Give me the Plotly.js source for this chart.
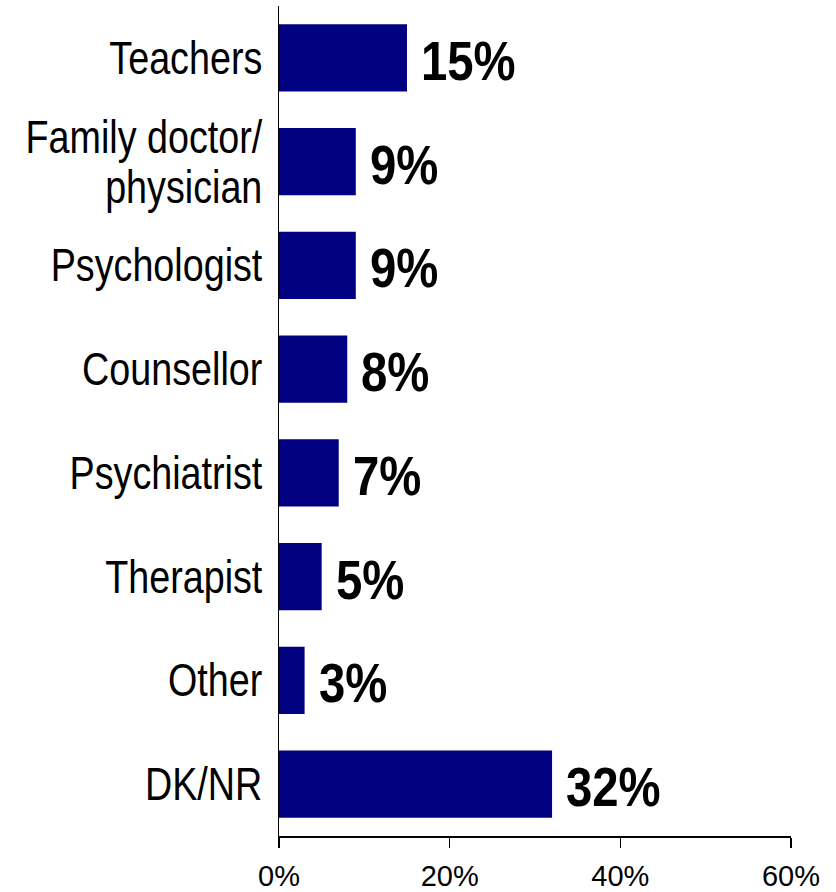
<!DOCTYPE html>
<html>
<head>
<meta charset="utf-8">
<script src="https://cdn.plot.ly/plotly-3.0.1.min.js"></script>
<style>
  html, body { margin: 0; padding: 0; background: #fff; }
  #chart { width: 836px; height: 892px; }
</style>
</head>
<body>
<div id="chart"></div>
<script>
const categories = ["Teachers", "Family doctor/<br>physician", "Psychologist", "Counsellor", "Psychiatrist", "Therapist", "Other", "DK/NR"];
const values = [15, 9, 9, 8, 7, 5, 3, 32];
const xTickVals = [0, 20, 40, 60];
const xTickText = ["0%", "20%", "40%", "60%"];

const FONT = "Liberation Sans, Arial, Helvetica, sans-serif";
const CONDENSE_CAT = 0.82;   // category labels in the reference use a narrow face
const CONDENSE_VAL = 0.86;

const trace = {
  type: "bar",
  orientation: "h",
  x: values,
  y: categories,
  marker: { color: "#000080", line: { width: 0 } },
  hoverinfo: "none",
  width: 0.65
};

const annotations = values.map((v, i) => ({
  x: v,
  y: categories[i],
  xref: "x",
  yref: "y",
  text: "<b>" + v + "%</b>",
  showarrow: false,
  xanchor: "left",
  yanchor: "middle",
  xshift: 12,
  yshift: -3,
  font: { family: FONT, size: 55, color: "#000" }
}));

const layout = {
  width: 836,
  height: 892,
  margin: { l: 279, r: 45, t: 6, b: 56, pad: 0 },
  paper_bgcolor: "#fff",
  plot_bgcolor: "#fff",
  showlegend: false,
  font: { family: FONT },
  xaxis: {
    range: [0, 60],
    tickvals: xTickVals,
    ticktext: xTickText,
    showgrid: false,
    zeroline: false,
    showline: true,
    linecolor: "#000",
    linewidth: 1.5,
    ticks: "outside",
    ticklen: 10,
    tickwidth: 1.5,
    tickcolor: "#000",
    tickfont: { family: FONT, size: 29, color: "#000" },
    ticklabelstandoff: 4,
    fixedrange: true
  },
  yaxis: {
    type: "category",
    categoryorder: "array",
    categoryarray: categories,
    range: [7.5, -0.5],
    showgrid: false,
    zeroline: false,
    showline: true,
    linecolor: "#000",
    linewidth: 1.5,
    ticks: "",
    tickfont: { family: FONT, size: 46, color: "#000" },
    ticklabelstandoff: 6,
    fixedrange: true
  },
  annotations: annotations
};

function condense(el, anchorRight, s) {
  const bb = el.getBBox();
  const ax = anchorRight ? bb.x + bb.width : bb.x;
  const tr = el.getAttribute("transform") || "";
  el.setAttribute("transform", tr + " translate(" + ax + ",0) scale(" + s + ",1) translate(" + (-ax) + ",0)");
}

Plotly.newPlot("chart", [trace], layout, { displayModeBar: false, staticPlot: true }).then(function (gd) {
  gd.querySelectorAll(".ytick text").forEach(function (t) {
    const lines = t.querySelectorAll("tspan.line");
    if (lines.length > 1) {
      for (let k = 1; k < lines.length; k++) lines[k].setAttribute("dy", "1.09em");
      const shift = (1.3 - 1.09) * 46 * (lines.length - 1) / 2;
      const tr = t.getAttribute("transform") || "";
      t.setAttribute("transform", tr + " translate(0," + shift + ")");
    }
    condense(t, true, CONDENSE_CAT);
  });
  gd.querySelectorAll(".annotation-text-g text").forEach(function (t) {
    condense(t, false, CONDENSE_VAL);
  });
});
</script>
</body>
</html>
